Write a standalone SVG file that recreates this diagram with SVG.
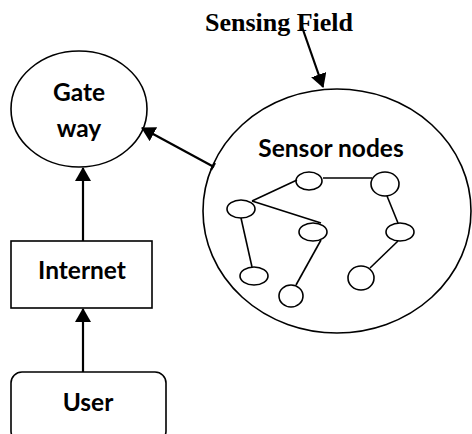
<svg xmlns="http://www.w3.org/2000/svg" width="472" height="434" viewBox="0 0 472 434">
<style>
.s{fill:#fff;stroke:#000;stroke-width:1.6}
.t{font-family:Lato,"Liberation Sans",sans-serif;font-weight:bold;font-size:24.5px;fill:#000;text-anchor:middle}
.c{stroke:#000;stroke-width:2.2;fill:none}
.e{stroke:#000;stroke-width:1.6;fill:none}
</style>
<defs>
<marker id="a" viewBox="0 0 14 16" refX="13" refY="8" markerWidth="14" markerHeight="16" markerUnits="userSpaceOnUse" orient="auto">
<path d="M0,0 L14,8 L0,16 Z" fill="#000"/>
</marker>
</defs>
<g id="field">
<ellipse class="s" cx="337" cy="211" rx="134" ry="122"/>
<text x="279" y="31" style="font-family:'Liberation Serif',serif;font-weight:bold;font-size:26px;text-anchor:middle">Sensing Field</text>
<text class="t" x="331" y="157">Sensor nodes</text>
</g>
<g id="gateway">
<ellipse class="s" cx="79" cy="109" rx="68" ry="58"/>
<text class="t" x="79" y="101">Gate</text>
<text class="t" x="79" y="137">way</text>
</g>
<g id="internet">
<rect class="s" x="11" y="241" width="141" height="67"/>
<text class="t" x="82" y="279">Internet</text>
</g>
<g id="user">
<rect class="s" x="11" y="372" width="155" height="70" rx="11"/>
<text class="t" x="88" y="411">User</text>
</g>
<g id="sensors">
<ellipse class="s" cx="309" cy="181" rx="13" ry="9"/>
<ellipse class="s" cx="385" cy="184" rx="14" ry="12"/>
<ellipse class="s" cx="241" cy="209" rx="14" ry="9"/>
<ellipse class="s" cx="313" cy="232" rx="14" ry="9"/>
<ellipse class="s" cx="400" cy="232" rx="14" ry="9"/>
<ellipse class="s" cx="254" cy="276" rx="14" ry="9"/>
<ellipse class="s" cx="291" cy="296" rx="12" ry="11"/>
<ellipse class="s" cx="361" cy="278" rx="13" ry="12"/>
</g>
<g id="connectors">
<line class="e" x1="323" y1="178" x2="372" y2="178"/>
<line class="e" x1="297" y1="180" x2="252" y2="201"/>
<line class="e" x1="252" y1="201" x2="321" y2="223"/>
<line class="e" x1="241" y1="218" x2="252" y2="267"/>
<line class="e" x1="321" y1="240" x2="296" y2="285"/>
<line class="e" x1="387" y1="196" x2="398" y2="223"/>
<line class="e" x1="398" y1="241" x2="370" y2="268"/>
<line class="c" x1="301" y1="24" x2="323" y2="87" marker-end="url(#a)"/>
<line class="c" x1="214" y1="167" x2="142" y2="128" marker-end="url(#a)"/>
<line class="c" x1="211" y1="170" x2="215" y2="163"/>
<line class="c" x1="83" y1="241" x2="83" y2="168" marker-end="url(#a)"/>
<line class="c" x1="83" y1="372" x2="83" y2="309" marker-end="url(#a)"/>
</g>
</svg>
